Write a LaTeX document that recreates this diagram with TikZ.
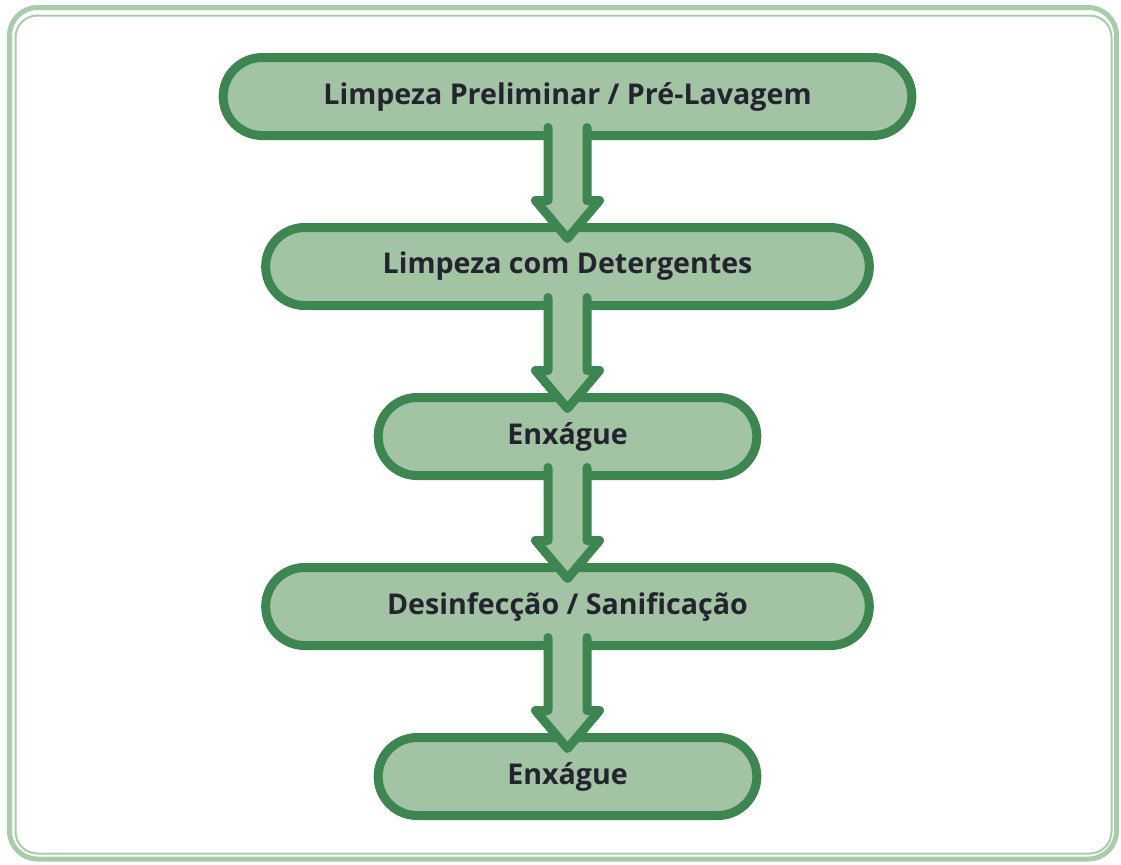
\documentclass[tikz,border=0pt]{standalone}
\usepackage{fontspec}
\newfontfamily\pillfont{Open Sans}
\usepackage{xcolor}
\usepackage{tikz}
\usetikzlibrary{shapes.misc, positioning, calc}
\definecolor{pillfill}{HTML}{A3C3A5}
\definecolor{pilldraw}{HTML}{3E8651}
\definecolor{framecol}{HTML}{A9CDAA}
\definecolor{pilltext}{HTML}{24242F}
\tikzset{
  pill/.style  = {rounded rectangle, draw=pilldraw, fill=pillfill, line width=4.5pt,
                  minimum height=39pt, outer sep=0pt, text=pilltext,
                  font=\pillfont\bfseries\fontsize{14.3}{17}\selectfont},
  wide/.style  = {pill, minimum width=351pt},
  mid/.style   = {pill, minimum width=308.5pt},
  short/.style = {pill, minimum width=196pt},
  flow/.style  = {draw=pilldraw, fill=pillfill, line width=4.5pt,
                  line join=round, line cap=round}
}

\begin{document}
\begin{tikzpicture}[node distance=46pt]
  \useasboundingbox (0,0) rectangle (560.5pt,-432pt);
  % frame
  \draw[framecol, line width=2.5pt, rounded corners=14pt] (4.75pt,-3.75pt) rectangle (558.25pt,-429.5pt);
  \draw[framecol, line width=1pt, rounded corners=11pt] (7.75pt,-7.75pt) rectangle (555.75pt,-426.75pt);
  % steps
  \node[wide]  (pre)   at (283.75pt,-48.25pt) {Limpeza Preliminar / Pré-Lavagem};
  \node[mid]   (det)   [below=of pre] {Limpeza com Detergentes};
  \node[short] (enx1)  [below=of det] {Enxágue};
  \node[mid]   (des)   [below=of enx1] {Desinfecção / Sanificação};
  \node[short] (enx2)  [below=of des] {Enxágue};
  % arrows
  \foreach \a/\b in {pre/det, det/enx1, enx1/des, des/enx2}
    \draw[flow] ($(\a.south)+(-9.75pt,4pt)$) -- ($(\b.north)+(-9.75pt,13.5pt)$)
      -- ($(\b.north)+(-16pt,13.5pt)$) -- ($(\b.north)+(0,-5.5pt)$)
      -- ($(\b.north)+(16pt,13.5pt)$) -- ($(\b.north)+(9.75pt,13.5pt)$)
      -- ($(\a.south)+(9.75pt,4pt)$);
\end{tikzpicture}
\end{document}
